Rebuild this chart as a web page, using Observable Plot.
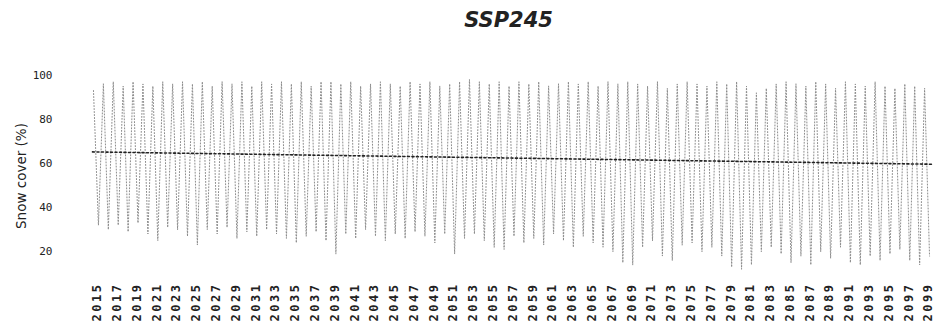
<!DOCTYPE html>
<html>
<head>
<meta charset="utf-8">
<script src="https://cdn.jsdelivr.net/npm/d3@7"></script>
<script src="https://cdn.jsdelivr.net/npm/@observablehq/plot@0.6"></script>
<style>
  html, body { margin: 0; padding: 0; background: #fff; }
  #title { width: 857px; padding-left: 80px; padding-top: 8px; height: 32px; line-height: 26px; text-align: center;
           font: italic bold 21px "DejaVu Sans", sans-serif; color: #222; }
  g[aria-label="x-axis tick label"] text { letter-spacing: 2.5px; }
</style>
</head>
<body>
<div id="title">SSP245</div>
<div id="chart"></div>
<script>
// Years of the simulation (one seasonal cycle each)
const years = [2015,2016,2017,2018,2019,2020,2021,2022,2023,2024,2025,2026,2027,2028,2029,2030,2031,2032,2033,2034,
  2035,2036,2037,2038,2039,2040,2041,2042,2043,2044,2045,2046,2047,2048,2049,2050,2051,2052,2053,2054,
  2055,2056,2057,2058,2059,2060,2061,2062,2063,2064,2065,2066,2067,2068,2069,2070,2071,2072,2073,2074,
  2075,2076,2077,2078,2079,2080,2081,2082,2083,2084,2085,2086,2087,2088,2089,2090,2091,2092,2093,2094,
  2095,2096,2097,2098,2099];

// Winter maximum snow cover (%) per year
const winterMax = [93,96,97,95,97,96,95,97,96,97,
  96,97,95,97,96,97,95,97,96,97,
  96,97,95,97,97,96,97,95,96,97,
  96,95,97,96,97,95,96,97,98,97,
  96,97,95,97,96,97,95,96,97,96,
  97,95,97,96,97,96,95,97,94,96,
  97,96,95,97,96,97,95,92,94,96,
  97,96,95,97,96,94,97,96,95,97,
  95,94,96,95,94];

// Summer minimum snow cover (%) per year
const summerMin = [32,30,32,29,33,28,25,31,30,27,
  23,30,28,31,26,29,27,30,28,26,
  24,27,29,25,19,28,26,30,27,25,
  28,26,29,27,24,28,19,26,28,25,
  22,21,27,24,26,23,28,25,22,27,
  24,22,20,15,14,22,25,18,16,23,
  24,20,22,18,13,12,14,20,22,19,
  15,18,14,20,17,22,15,14,18,16,
  19,21,16,14,18];

// Timing (fraction of year) of the winter peak and summer low
const peakPhase = 0.1;
const lowPhase = 0.6;

// Linear trend end points (%)
const trendYears = [2015, 2100];
const trendValues = [65.2, 59.6];

// Axis tick labels
const tickYears = [2015,2017,2019,2021,2023,2025,2027,2029,2031,2033,2035,2037,2039,2041,2043,2045,2047,2049,
  2051,2053,2055,2057,2059,2061,2063,2065,2067,2069,2071,2073,2075,2077,2079,2081,2083,2085,2087,2089,
  2091,2093,2095,2097,2099];
const yTicks = [20, 40, 60, 80, 100];

const series = [];
years.forEach((yr, i) => {
  series.push({t: yr + peakPhase, v: winterMax[i]});
  series.push({t: yr + lowPhase, v: summerMin[i]});
});
const trend = trendYears.map((t, i) => ({t, v: trendValues[i]}));

const chart = Plot.plot({
  width: 937,
  height: 289,
  marginLeft: 92,
  marginRight: 4,
  marginTop: 28,
  marginBottom: 58,
  x: {domain: [2015, 2100]},
  y: {domain: [11, 103]},
  style: {fontFamily: "DejaVu Sans Mono, monospace", fontSize: "11px", color: "#222", background: "#fff"},
  marks: [
    Plot.line(series, {x: "t", y: "v", stroke: "#8c8c8c", strokeWidth: 1, strokeDasharray: "1,2"}),
    Plot.line(trend, {x: "t", y: "v", stroke: "#222", strokeWidth: 1.6, strokeDasharray: "2,2.5"}),
    Plot.axisY(yTicks, {tickSize: 0, tickPadding: 40, label: null, fontSize: 11}),
    Plot.axisX(tickYears.map(d => d + 0.5), {
      tickFormat: d => String(Math.round(d - 0.5)),
      tickRotate: -90, tickSize: 0, tickPadding: 11, label: null, fontSize: 12, fontWeight: "bold"
    }),
    Plot.text(["Snow cover (%)"], {
      frameAnchor: "left", dx: -71, dy: 6, rotate: -90, text: d => d, textAnchor: "middle",
      fontFamily: "DejaVu Sans, sans-serif", fontSize: 13.5, fill: "#222"
    })
  ]
});
document.getElementById("chart").appendChild(chart);
</script>
</body>
</html>
